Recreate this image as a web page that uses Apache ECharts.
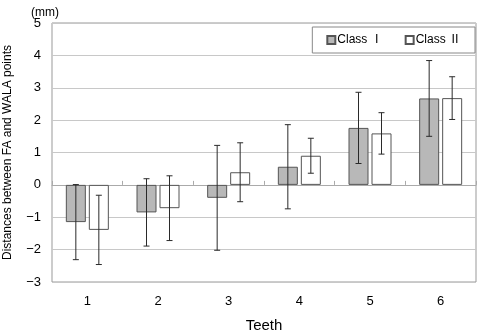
<!DOCTYPE html>
<html>
<head>
<meta charset="utf-8">
<script src="https://cdn.jsdelivr.net/npm/echarts@6/dist/echarts.min.js"></script>
<style>
  html, body { margin: 0; padding: 0; background: #fff; }
  #chart { width: 478px; height: 332px; }
</style>
</head>
<body>
<div id="chart"></div>
<script>
// Teeth positions and the mean / SD of the FA–WALA distance per class (mm)
const teeth = ['1', '2', '3', '4', '5', '6'];
const classIMean = [-1.15, -0.85, -0.40, 0.56, 1.76, 2.67];
const classISD   = [1.16, 1.04, 1.62, 1.30, 1.10, 1.17];
const classIIMean = [-1.39, -0.72, 0.39, 0.90, 1.59, 2.68];
const classIISD   = [1.07, 1.00, 0.91, 0.54, 0.64, 0.66];
const seriesNames = ['Class Ⅰ', 'Class Ⅱ'];

const FONT = '"Liberation Sans", Arial, "Noto Sans CJK JP", sans-serif';
const BAR_W = 20;
const BAR_GAP = 0.15;

const chart = echarts.init(document.getElementById('chart'));

// Error bar (mean ± SD) drawn over the bar of the given series slot
function errorSeries(means, sds, slot) {
  return {
    type: 'custom',
    silent: true,
    z: 5,
    data: means.map((m, i) => [i, m - sds[i], m + sds[i]]),
    renderItem: function (params, api) {
      const gap = BAR_W * BAR_GAP;
      const off = (slot === 0 ? -1 : 1) * (BAR_W / 2 + gap / 2);
      const lo = api.coord([api.value(0), api.value(1)]);
      const hi = api.coord([api.value(0), api.value(2)]);
      const x = lo[0] + off;
      const cap = 3;
      const style = { stroke: '#2a2a2a', lineWidth: 1, fill: null };
      return {
        type: 'group',
        children: [
          { type: 'line', shape: { x1: x, y1: hi[1], x2: x, y2: lo[1] }, style: style },
          { type: 'line', shape: { x1: x - cap, y1: hi[1], x2: x + cap, y2: hi[1] }, style: style },
          { type: 'line', shape: { x1: x - cap, y1: lo[1], x2: x + cap, y2: lo[1] }, style: style }
        ]
      };
    }
  };
}

chart.setOption({
  animation: false,
  backgroundColor: '#fff',
  textStyle: { fontFamily: FONT },
  title: {
    text: '(mm)',
    left: 26, top: 2,
    textStyle: { fontSize: 12, fontWeight: 'normal', color: '#000', fontFamily: FONT }
  },
  legend: {
    data: seriesNames,
    right: 3, top: 27,
    width: 150,
    padding: [7, 14, 7, 14],
    itemGap: 22,
    itemWidth: 8, itemHeight: 8,
    icon: 'rect',
    borderColor: '#888', borderWidth: 1,
    textStyle: { fontSize: 12, color: '#000', fontFamily: FONT, padding: [0, 0, 0, -3] }
  },
  grid: {
    left: 52, right: 2, top: 23, bottom: 50,
    outerBoundsMode: 'none',
    containLabel: false,
    show: true, borderColor: '#999', borderWidth: 1
  },
  xAxis: [{
    type: 'category',
    data: teeth,
    name: 'Teeth',
    nameLocation: 'middle',
    nameGap: 36,
    nameTextStyle: { fontSize: 15, color: '#000', fontFamily: FONT },
    axisLine: { show: false, onZero: false },
    axisTick: { show: false },
    axisLabel: { fontSize: 13, color: '#000', margin: 13, fontFamily: FONT }
  }, {
    type: 'category',
    data: teeth,
    position: 'bottom',
    axisLine: { show: true, onZero: true, lineStyle: { color: '#aaa' } },
    axisTick: { show: true, inside: true, length: 4, lineStyle: { color: '#aaa' } },
    axisLabel: { show: false }
  }],
  yAxis: {
    type: 'value',
    min: -3, max: 5, interval: 1,
    name: 'Distances between FA and WALA points',
    nameLocation: 'middle',
    nameGap: 38,
    nameTextStyle: { fontSize: 12, color: '#000', fontFamily: FONT },
    axisLine: { show: false },
    axisTick: { show: false },
    axisLabel: {
      fontSize: 13, color: '#000', margin: 11, fontFamily: FONT,
      formatter: v => String(v).replace('-', '−')
    },
    splitLine: { lineStyle: { color: '#c8c8c8', width: 1 } }
  },
  series: [
    {
      name: seriesNames[0],
      type: 'bar',
      data: classIMean,
      barWidth: BAR_W,
      barGap: (BAR_GAP * 100) + '%',
      itemStyle: { color: '#b8b8b8', borderColor: '#555', borderWidth: 1 }
    },
    {
      name: seriesNames[1],
      type: 'bar',
      data: classIIMean,
      barWidth: BAR_W,
      barGap: (BAR_GAP * 100) + '%',
      itemStyle: { color: '#ffffff', borderColor: '#555', borderWidth: 1 }
    },
    errorSeries(classIMean, classISD, 0),
    errorSeries(classIIMean, classIISD, 1)
  ]
});
</script>
</body>
</html>
